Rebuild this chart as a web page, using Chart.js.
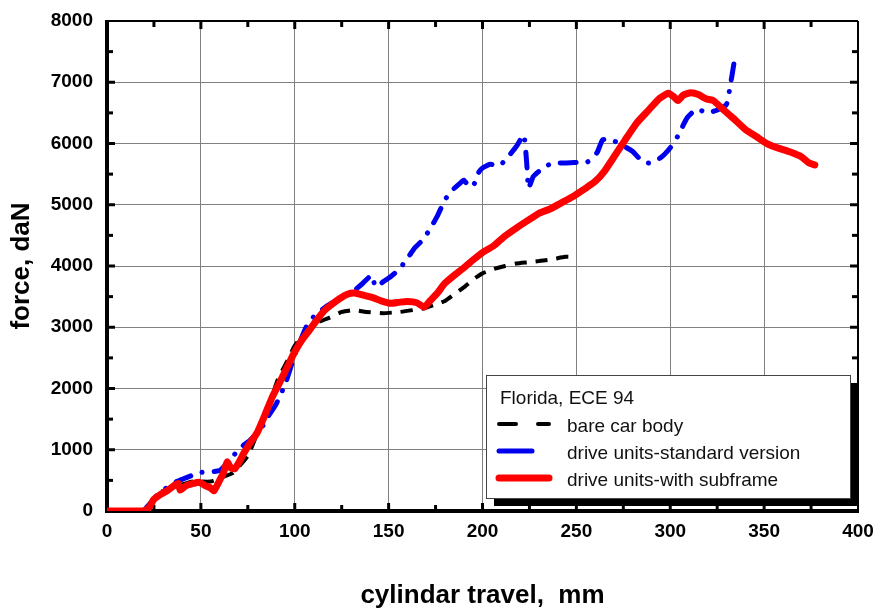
<!DOCTYPE html>
<html>
<head>
<meta charset="utf-8">
<script src="https://cdn.jsdelivr.net/npm/chart.js@4.4.1/dist/chart.umd.min.js"></script>
<style>
  html, body { margin: 0; padding: 0; background: #fff; }
  #wrap { position: relative; width: 887px; height: 608px; }
</style>
</head>
<body>
<div id="wrap"><canvas id="c" width="887" height="608"></canvas></div>
<script>
// ---------- data ----------
const bareX = [0, 18, 22, 28, 35, 45, 55, 62, 67, 75, 81, 86, 91, 96, 100, 105, 110, 118, 125, 131, 138, 147, 156, 163, 169, 175, 180, 185, 190, 195, 200, 206, 212, 218, 224, 230, 237, 244, 246];
const bareY = [0, 0, 60, 300, 380, 480, 480, 560, 620, 900, 1340, 1700, 2150, 2450, 2700, 2900, 3050, 3150, 3250, 3280, 3250, 3230, 3250, 3280, 3310, 3370, 3430, 3540, 3650, 3780, 3880, 3950, 4000, 4040, 4060, 4080, 4110, 4150, 4150];

const stdX = [0, 19, 22, 28, 34, 37, 42, 46, 50, 55, 60, 64, 67, 71, 76, 82, 86, 90, 95, 100, 106, 110, 115, 120, 125, 130, 136, 141, 143, 147, 152, 156, 161, 164, 168, 172, 176, 180, 184, 188, 190, 193, 195, 198, 200, 204, 209, 213, 218, 222, 223.5, 224.5, 227, 231, 237, 244, 250, 256, 261, 264, 268, 274, 280, 285, 289, 295, 300, 304, 309, 314, 320, 326, 330, 332, 334];
const stdY = [0, 0, 90, 300, 420, 480, 540, 590, 630, 640, 660, 780, 890, 1030, 1150, 1340, 1550, 1740, 2080, 2550, 3000, 3170, 3300, 3400, 3480, 3560, 3710, 3850, 3660, 3740, 3850, 3960, 4170, 4300, 4420, 4600, 4820, 5080, 5240, 5350, 5400, 5300, 5300, 5530, 5600, 5660, 5640, 5760, 5950, 6140, 5700, 5270, 5460, 5570, 5680, 5680, 5690, 5700, 5850, 6060, 6070, 5980, 5870, 5710, 5680, 5770, 5930, 6120, 6420, 6560, 6500, 6560, 6640, 6950, 7320];

const subX = [0, 19, 22, 25, 28, 32, 36, 38, 39, 42, 46, 49, 52, 55, 57, 60, 62, 64, 66, 68, 70, 73, 76, 80, 84, 88, 92, 96, 100, 104, 108, 112, 116, 120, 124, 128, 132, 137, 142, 146, 151, 156, 160, 165, 169, 172, 176, 180, 185, 190, 195, 200, 206, 212, 218, 224, 230, 236, 242, 248, 254, 260, 265, 270, 276, 282, 288, 294, 299, 302, 304, 307, 311, 315, 319, 323, 328, 334, 340, 346, 352, 358, 364, 370, 374, 377];
const subY = [0, 0, 40, 190, 260, 330, 420, 450, 340, 410, 450, 470, 420, 380, 330, 500, 620, 800, 700, 690, 780, 950, 1100, 1280, 1560, 1860, 2100, 2350, 2600, 2800, 2960, 3130, 3280, 3380, 3470, 3540, 3560, 3520, 3480, 3430, 3390, 3410, 3420, 3400, 3330, 3430, 3560, 3720, 3850, 3970, 4100, 4220, 4330, 4490, 4620, 4740, 4860, 4930, 5030, 5130, 5250, 5380, 5550, 5780, 6060, 6330, 6530, 6730, 6820, 6760, 6700, 6790, 6830, 6800, 6730, 6700, 6560, 6400, 6230, 6110, 5990, 5920, 5860, 5780, 5680, 5650];

const legendTitle = "Florida, ECE 94";
const seriesNames = ["bare car body", "drive units-standard version", "drive units-with subframe"];

const FONT = "'Liberation Sans', Arial, sans-serif";
const pts = (xs, ys) => xs.map((v, i) => ({ x: v, y: ys[i] }));

// ---------- frame, inward ticks ----------
const framePlugin = {
  id: "frame",
  beforeDatasetsDraw(chart) {
    const { ctx, chartArea: a, scales: { x, y } } = chart;
    const seg = (x1, y1, x2, y2) => { ctx.beginPath(); ctx.moveTo(x1, y1); ctx.lineTo(x2, y2); ctx.stroke(); };
    ctx.save();
    ctx.strokeStyle = "#000";
    ctx.lineWidth = 3;
    for (let v = 25; v < 400; v += 25) {
      const px = x.getPixelForValue(v);
      const len = v % 50 === 0 ? 8 : 6;
      seg(px, a.bottom, px, a.bottom - len);
      seg(px, a.top, px, a.top + len);
    }
    for (let v = 500; v < 8000; v += 500) {
      const py = y.getPixelForValue(v);
      const len = v % 1000 === 0 ? 8 : 6;
      seg(a.left, py, a.left + len, py);
      seg(a.right, py, a.right - len, py);
    }
    ctx.lineWidth = 2;
    seg(a.left, a.top, a.right, a.top);
    seg(a.right, a.top, a.right, a.bottom);
    ctx.lineWidth = 4;
    seg(a.left, a.top - 1, a.left, a.bottom + 2);
    seg(a.left - 2, a.bottom, a.right + 1, a.bottom);
    ctx.restore();
  }
};

// ---------- boxed legend with shadow ----------
const boxLegend = {
  id: "boxLegend",
  afterDraw(chart) {
    const { ctx } = chart;
    const bx = 486, by = 375, bw = 364, bh = 123;
    ctx.save();
    ctx.fillStyle = "#000";
    ctx.fillRect(bx + 8, by + 8, bw, bh);
    ctx.fillStyle = "#fff";
    ctx.fillRect(bx, by, bw, bh);
    ctx.strokeStyle = "#444";
    ctx.lineWidth = 1;
    ctx.strokeRect(bx + 0.5, by + 0.5, bw, bh);

    ctx.fillStyle = "#111";
    ctx.font = "19px " + FONT;
    ctx.textBaseline = "alphabetic";
    ctx.textAlign = "left";
    ctx.fillText(legendTitle, 500, 404);

    const ds = chart.data.datasets;
    const samples = [[17, 22], [33, 17, 0.1, 60], []];
    ds.forEach((d, i) => {
      const ly = 424 + i * 27;
      ctx.strokeStyle = d.borderColor;
      ctx.lineWidth = d.borderWidth;
      ctx.lineCap = "round";
      ctx.setLineDash(samples[i]);
      ctx.beginPath();
      ctx.moveTo(499, ly);
      ctx.lineTo(549, ly);
      ctx.stroke();
      ctx.setLineDash([]);
      ctx.fillStyle = "#111";
      ctx.fillText(d.label, 567, ly + 8);
    });
    ctx.restore();
  }
};

new Chart(document.getElementById("c"), {
  type: "line",
  data: {
    datasets: [
      { label: seriesNames[0], data: pts(bareX, bareY), borderColor: "#000000", borderWidth: 4,
        borderDash: [12, 9], borderCapStyle: "butt", order: 2 },
      { label: seriesNames[1], data: pts(stdX, stdY), borderColor: "#0000ee", borderWidth: 5,
        borderDash: [16, 12, 0.1, 12], borderCapStyle: "round", order: 1 },
      { label: seriesNames[2], data: pts(subX, subY), borderColor: "#ff0000", borderWidth: 7,
        borderCapStyle: "round", borderJoinStyle: "round", order: 0 }
    ]
  },
  options: {
    responsive: false,
    animation: false,
    devicePixelRatio: 1,
    layout: { padding: { top: 21, right: 29, left: 0, bottom: 0 } },
    elements: { point: { radius: 0 }, line: { tension: 0.15 } },
    plugins: { legend: { display: false }, tooltip: { enabled: false } },
    scales: {
      x: {
        type: "linear", min: 0, max: 400,
        ticks: { stepSize: 50, padding: 9, color: "#000", maxRotation: 0,
          callback: v => String(v),
          font: { family: FONT, size: 19, weight: "bold" } },
        grid: { color: "#808080", lineWidth: 1, drawTicks: false },
        border: { display: false },
        title: { display: true, text: "cylindar travel,  mm", color: "#000",
          font: { family: FONT, size: 26, weight: "bold", lineHeight: 0.9 }, padding: { top: 0, bottom: 0 } },
        afterFit(s) { s.height = 97; s.paddingLeft = 0; s.paddingRight = 0; }
      },
      y: {
        type: "linear", min: 0, max: 8000,
        ticks: { stepSize: 1000, padding: 14, color: "#000",
          callback: v => String(v),
          font: { family: FONT, size: 19, weight: "bold" } },
        grid: { color: "#808080", lineWidth: 1, drawTicks: false },
        border: { display: false },
        title: { display: true, text: "force, daN", color: "#000",
          font: { family: FONT, size: 26, weight: "bold", lineHeight: 0.9 }, padding: { top: 10, bottom: 0 } },
        afterFit(s) { s.width = 107; s.paddingTop = 0; s.paddingBottom = 0; }
      }
    }
  },
  plugins: [framePlugin, boxLegend]
});
</script>
</body>
</html>
